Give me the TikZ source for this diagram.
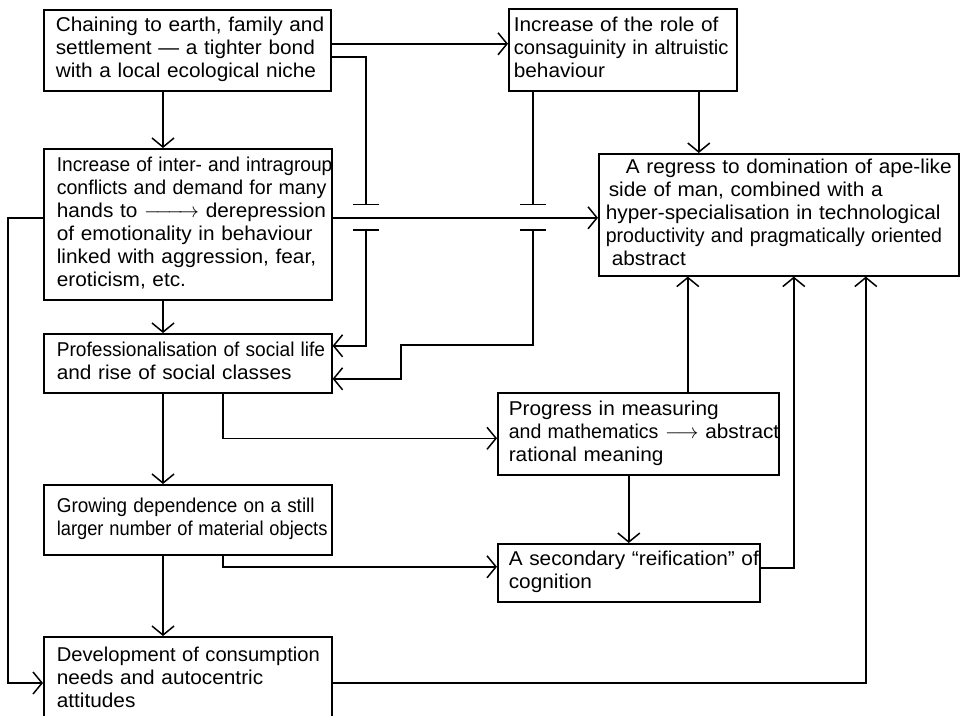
\documentclass[tikz,border=0pt]{standalone}
\usepackage{graphicx}
\usepackage{fontspec}
\setmainfont{Liberation Sans}[FakeStretch=1.04]
\usetikzlibrary{arrows.meta}

\newcommand{\stack}[1]{\begin{tabular}{@{}l@{}}#1\end{tabular}}
\newcommand{\squeeze}[2]{\scalebox{#1}[1]{#2}}

\begin{document}
\begin{tikzpicture}[x=1pt,y=-1pt]
        \tikzstyle{box}=[draw, line width=1.6pt, anchor=north west, align=left, inner xsep=12pt, inner ysep=0pt, font=\fontsize{20pt}{23pt}\selectfont]
        \tikzstyle{flow}=[line width=1.5pt, -{Straight Barb[length=9pt,width=22pt]}]
        \tikzstyle{cut}=[line width=1.5pt, -{Bar[width=26pt]}]
        \tikzstyle{resume}=[line width=1.5pt, {Bar[width=26pt]}-{Straight Barb[length=9pt,width=22pt]}]

        \useasboundingbox (0,0) rectangle (961,715);

        \node[box, text width=263pt, minimum height=81pt] (chain) at (43,9)
            {\stack{Chaining to earth, family and\\ settlement --- a tighter bond\\ with a local ecological niche}};
        \node[box, inner xsep=5pt, text width=218pt, minimum height=82pt] (kin) at (508,8)
            {\stack{Increase of the role of\\ \squeeze{0.97}{consaguinity in altruistic}\\ behaviour}};
        \node[box, inner xsep=13pt, text width=262pt, minimum height=151pt] (conflict) at (43,148)
            {\stack{\squeeze{0.92}{Increase of inter- and intragroup}\\ \squeeze{0.94}{conflicts and demand for many}\\ hands to \hbox to 55pt{\rightarrowfill}\ derepression\\ of emotionality in behaviour\\ linked with aggression, fear,\\ eroticism, etc.}};
        \node[box, inner xsep=7pt, text width=346pt, minimum height=122pt] (regress) at (598,153)
            {\stack{\hspace*{20pt}A regress to domination of ape-like\\ \hspace*{3pt}side of man, combined with a\\ hyper-specialisation in technological\\ \squeeze{0.94}{productivity and pragmatically oriented}\\ \hspace*{6pt}abstract}};
        \node[box, inner xsep=13pt, text width=262pt, minimum height=59pt] (prof) at (43,333)
            {\stack{\squeeze{0.92}{Professionalisation of social life}\\ and rise of social classes}};
        \node[box, inner xsep=11pt, text width=259pt, minimum height=82pt] (measure) at (497,392)
            {\stack{Progress in measuring\\ \squeeze{0.94}{and mathematics} $\longrightarrow$ abstract\\ rational meaning}};
        \node[box, inner xsep=11pt, text width=240pt, minimum height=58pt] (reify) at (497,543)
            {\stack{A secondary “reification” of\\ cognition}};
        \node[box, inner xsep=13pt, text width=262pt, minimum height=70pt] (objects) at (43,484)
            {\stack{\squeeze{0.91}{Growing dependence on a still}\\ \squeeze{0.88}{larger number of material objects}}};
        \node[box, inner xsep=13pt, text width=262pt, minimum height=86pt] (consume) at (43,636)
            {\stack{\squeeze{0.97}{Development of consumption}\\ needs and autocentric\\ attitudes}};

        \coordinate (spine) at (163,0);
        \coordinate (tap) at (223,0);
        \coordinate (gap1t) at (366,205);
        \coordinate (gap1b) at (366,229);
        \coordinate (gap2t) at (533,205);
        \coordinate (gap2b) at (533,229);
        \coordinate (jog) at (401,345);
        \coordinate (railfoot) at (8,683);

        \draw[flow] ([yshift=6.5pt]chain.east) -- ([yshift=6.5pt]chain.east -| kin.west);
        \draw[flow] (chain.south -| spine) -- (conflict.north -| spine);
        \draw[flow] (conflict.south -| spine) -- (prof.north -| spine);
        \draw[flow] (prof.south -| spine) -- (objects.north -| spine);
        \draw[flow] (objects.south -| spine) -- (consume.north -| spine);

        \draw[cut] ([yshift=-6.5pt]chain.east) -| (gap1t);
        \draw[resume] (gap1b) |- ([yshift=17.5pt]prof.east);
        \draw[cut] (kin.south -| gap2t) -- (gap2t);
        \draw[resume] (gap2b) |- (jog) |- ([yshift=-15.5pt]prof.east);

        \draw[flow] ([xshift=76pt]kin.south) -- ([xshift=76pt]kin.south |- regress.north);
        \draw[flow] ([yshift=6.5pt]conflict.east) -- ([yshift=6.5pt]conflict.east -| regress.west);
        \draw[flow] ([yshift=6.5pt]conflict.west) -| (railfoot) -- (railfoot -| consume.west);

        \draw[flow] (prof.south -| tap) |- ([yshift=-4.5pt]measure.west);
        \draw[flow] (objects.south -| tap) |- ([yshift=6pt]reify.west);
        \draw[flow] (reify.north |- measure.south) -- (reify.north);
        \draw[flow] ([xshift=49.5pt]measure.north) -- ([xshift=49.5pt]measure.north |- regress.south);
        \draw[flow] ([yshift=5pt]reify.east) -| ([xshift=15pt]regress.south);
        \draw[flow] ([yshift=-3pt]consume.east) -| ([xshift=87pt]regress.south);
\end{tikzpicture}
\end{document}
